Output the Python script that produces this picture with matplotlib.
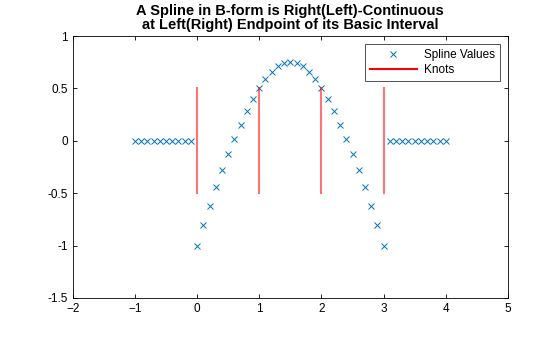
import matplotlib.pyplot as plt

plt.rcParams['font.family'] = ['Liberation Sans', 'DejaVu Sans']

# spline samples
x_left = [-1.0, -0.9, -0.8, -0.7, -0.6, -0.5, -0.4, -0.3, -0.2, -0.1]
y_left = [0, 0, 0, 0, 0, 0, 0, 0, 0, 0]
x_mid = [0.0, 0.1, 0.2, 0.3, 0.4, 0.5, 0.6, 0.7, 0.8, 0.9, 1.0,
         1.1, 1.2, 1.3, 1.4, 1.5, 1.6, 1.7, 1.8, 1.9, 2.0,
         2.1, 2.2, 2.3, 2.4, 2.5, 2.6, 2.7, 2.8, 2.9, 3.0]
y_mid = [-1.0, -0.805, -0.62, -0.445, -0.28, -0.125, 0.02, 0.155, 0.28, 0.395, 0.5,
         0.59, 0.66, 0.71, 0.74, 0.75, 0.74, 0.71, 0.66, 0.59, 0.5,
         0.395, 0.28, 0.155, 0.02, -0.125, -0.28, -0.445, -0.62, -0.805, -1.0]
x_right = [3.1, 3.2, 3.3, 3.4, 3.5, 3.6, 3.7, 3.8, 3.9, 4.0]
y_right = [0, 0, 0, 0, 0, 0, 0, 0, 0, 0]

knots = [0, 1, 2, 3]
knot_lo, knot_hi = -0.5, 0.5

xs = x_left + x_mid + x_right
ys = y_left + y_mid + y_right

fig = plt.figure(figsize=(5.6, 3.37), dpi=100)
ax = fig.add_axes([0.130, 0.116, 0.777, 0.777])

ax.plot(xs, ys, 'x', color=(0, 0.447, 0.741), markersize=5, markeredgewidth=0.7,
        label='Spline Values')
for i, k in enumerate(knots):
    ax.plot([k, k], [knot_lo, knot_hi], color='red', alpha=0.55, linewidth=1.5,
            label='Knots' if i == 0 else None)

ax.set_xlim(-2, 5)
ax.set_ylim(-1.5, 1)
ax.set_xticks(range(-2, 6))
ax.set_yticks([-1.5, -1, -0.5, 0, 0.5, 1])
ax.set_yticklabels(['-1.5', '-1', '-0.5', '0', '0.5', '1'])
ax.tick_params(direction='in', length=3, labelsize=8.5, width=0.6, top=True, right=True,
               labeltop=False, labelright=False)
for s in ax.spines.values():
    s.set_linewidth(0.6)

ax.set_title('A Spline in B-form is Right(Left)-Continuous\nat Left(Right) Endpoint of its Basic Interval',
             fontsize=10.5, fontweight='bold', linespacing=1.0, pad=5)

leg = ax.legend(loc='upper right', fontsize=8.5, frameon=True, fancybox=False,
                edgecolor='black', borderpad=0.4, handlelength=4.0, labelspacing=0.25,
                handletextpad=0.6, borderaxespad=0.7)
leg.get_frame().set_linewidth(0.6)
leg.legend_handles[1].set_alpha(1)

fig.savefig('out.png', dpi=100)
